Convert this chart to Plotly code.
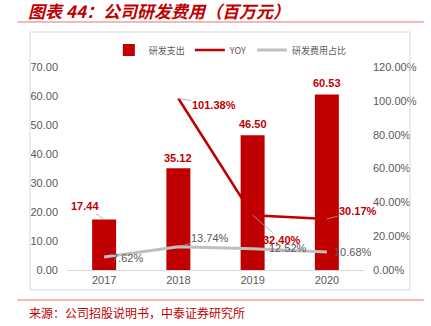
import plotly.graph_objects as go

years = ["2017", "2018", "2019", "2020"]
rd_spend = [17.44, 35.12, 46.50, 60.53]
yoy_years = ["2018", "2019", "2020"]
yoy = [1.0138, 0.3240, 0.3017]
rd_ratio = [0.0762, 0.1374, 0.1252, 0.1068]
left_ticks = [0, 10, 20, 30, 40, 50, 60, 70]
right_ticks = [0, 0.2, 0.4, 0.6, 0.8, 1.0, 1.2]

RED = "#C00000"
GRAY = "#BFBFBF"
TXT = "#595959"
FONT = "Liberation Sans, Arial, sans-serif"
CJK = "Noto Sans CJK SC, sans-serif"

fig = go.Figure()
fig.add_trace(go.Bar(x=years, y=rd_spend, name="研发支出", marker_color=RED,
                     marker_line_width=0, yaxis="y"))
fig.add_trace(go.Scatter(x=yoy_years, y=yoy, name="YOY", mode="lines",
                         line=dict(color=RED, width=2.5), yaxis="y2"))
fig.add_trace(go.Scatter(x=years, y=rd_ratio, name="研发费用占比", mode="lines",
                         line=dict(color=GRAY, width=3), yaxis="y2"))

def idx(yr):
    return years.index(yr)

ann = []
# bar labels
bar_off = [(-19, -13, True), (0, -10, False), (0, -11, False), (0, -11, False)]
for yr, v, (dx, dy, arrow) in zip(years, rd_spend, bar_off):
    if arrow:
        ann.append(dict(x=idx(yr), y=v, yref="y", text=f"{v:.2f}", showarrow=True,
                        ax=dx, ay=dy, arrowhead=0, arrowwidth=0.8, arrowcolor="#A6A6A6",
                        font=dict(color=RED, size=11, family=FONT, weight="bold")))
    else:
        ann.append(dict(x=idx(yr), y=v, yref="y", text=f"{v:.2f}", showarrow=False,
                        yshift=-dy, font=dict(color=RED, size=11, family=FONT, weight="bold")))
# yoy labels
yoy_off = [(36, 6), (29, 25), (31, -8)]
for yr, v, (dx, dy) in zip(yoy_years, yoy, yoy_off):
    ann.append(dict(x=idx(yr), y=v, yref="y2", text=f"{v*100:.2f}%", showarrow=True,
                    ax=dx, ay=dy, arrowhead=0, arrowwidth=0.8, arrowcolor="#A6A6A6",
                    standoff=0, font=dict(color=RED, size=11, family=FONT, weight="bold")))
# ratio labels
ratio_off = [(23, 1, False), (32, -9, True), (35, -1, False), (26, 0, False)]
for yr, v, (dx, dy, arrow) in zip(years, rd_ratio, ratio_off):
    if arrow:
        ann.append(dict(x=idx(yr), y=v, yref="y2", text=f"{v*100:.2f}%", showarrow=True,
                        ax=dx, ay=dy, arrowhead=0, arrowwidth=0.8, arrowcolor="#A6A6A6",
                        font=dict(color=TXT, size=11, family=FONT)))
    else:
        ann.append(dict(x=idx(yr), y=v, yref="y2", text=f"{v*100:.2f}%", showarrow=False,
                        xshift=dx, yshift=-dy, font=dict(color=TXT, size=11, family=FONT)))

ann.append(dict(xref="paper", yref="paper", x=-0.1347, y=-0.2118, xanchor="left",
                yanchor="middle", showarrow=False, text="来源：公司招股说明书，中泰证券研究所",
                font=dict(color=RED, size=12, family=CJK)))

shapes = [
    dict(type="line", xref="paper", yref="paper", x0=-0.168, x1=1.202, y0=1.2217, y1=1.2217,
         line=dict(color="#E57373", width=1)),
    dict(type="line", xref="paper", yref="paper", x0=-0.168, x1=1.202, y0=-0.148, y1=-0.148,
         line=dict(color="#E57373", width=1)),
    dict(type="rect", xref="paper", yref="paper", x0=-0.1246, x1=1.1549, y0=-0.0985, y1=1.1724,
         line=dict(color="#D9D9D9", width=1)),
]

fig.update_layout(
    width=431, height=326,
    margin=dict(l=67, r=67, t=67, b=56),
    paper_bgcolor="white", plot_bgcolor="white",
    bargap=0.677,
    title=dict(text="<b><i>图表 44：公司研发费用（百万元）</i></b>", xref="container", yref="container",
               x=28/431, xanchor="left", y=1-12/326, yanchor="middle",
               font=dict(color=RED, size=17, family=CJK)),
    legend=dict(orientation="h", x=0.55, xanchor="center", y=1.0837, yanchor="middle",
                font=dict(color=TXT, size=9, family=CJK), itemwidth=30,
                bgcolor="rgba(0,0,0,0)"),
    xaxis=dict(type="category", range=[-0.5, 3.5], autorange=False, showline=True,
               linecolor="#D9D9D9", linewidth=1,
               showgrid=False, ticks="", tickfont=dict(color=TXT, size=11, family=FONT)),
    yaxis=dict(range=[0, 70], autorange=False, tickvals=left_ticks, tickformat=".2f", showgrid=False,
               zeroline=False, showline=False, ticklabelstandoff=8,
               tickfont=dict(color=TXT, size=11, family=FONT)),
    yaxis2=dict(range=[0, 1.2], autorange=False, tickvals=right_ticks, tickformat=".2%", overlaying="y",
                side="right", showgrid=False, zeroline=False, showline=False,
                ticklabelstandoff=8, tickfont=dict(color=TXT, size=11, family=FONT)),
    annotations=ann, shapes=shapes,
)

fig.write_html("out.html")
